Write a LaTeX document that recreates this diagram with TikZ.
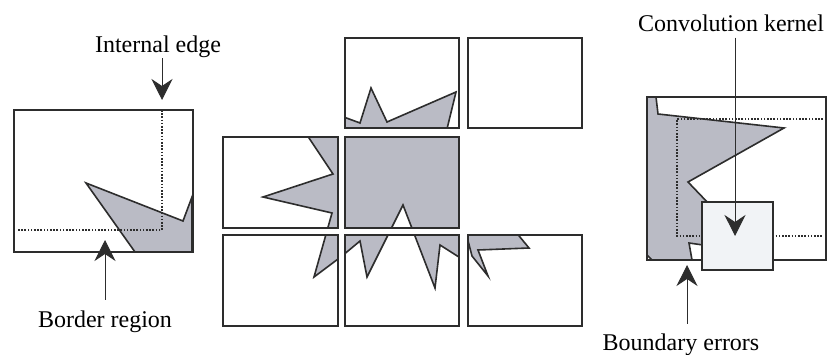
\documentclass[tikz,border=0pt]{standalone}
\usepackage{fontspec}
\setmainfont{Liberation Serif}
\usetikzlibrary{arrows.meta, positioning}
\definecolor{blobgray}{RGB}{186,187,197}
\definecolor{kernelfill}{RGB}{241,243,246}
\definecolor{inkline}{RGB}{45,45,45}

\begin{document}
\begin{tikzpicture}[
    x=1pt, y=-1pt,
    every node/.style={font=\fontsize{24}{28}\selectfont, inner sep=0pt},
    tile/.style={draw=inkline, line width=1.6pt},
    blob/.style={fill=blobgray, draw=inkline, line width=1.6pt, line join=miter},
    edgeline/.style={draw=inkline, line width=1.6pt, dash pattern=on 1.6pt off 1.6pt},
    pointer/.style={-{Stealth[length=21pt, width=21pt, inset=7pt]}, line width=1pt, inkline}
]
\useasboundingbox (0,0) rectangle (834,355);

% left: one image with its border region
\filldraw[blob] (86,183) -- (183,221) -- (192,197) -- (192,252) -- (135,252) -- cycle;
\draw[edgeline] (162,110) -- (162,230) -- (17,230);
\draw[tile] (14,110) rectangle (193,252);

\node (ielabel) at (158,47) {Internal edge};
\node (brlabel) at (105,322) {Border region};
\coordinate (ietip) at (162,100);
\coordinate (brtip) at (105,240);

\draw[pointer] (ielabel.south -| ietip) -- (ietip);
\draw[pointer, shorten <=11pt] (brlabel.north -| brtip) -- (brtip);

% middle: neighbouring tiles
\begin{scope}
\clip (345,38) rectangle (459,128)
      (223,137) rectangle (338,228)
      (345,137) rectangle (459,228)
      (223,235) rectangle (338,326)
      (345,235) rectangle (459,326)
      (468,235) rectangle (582,326);
\filldraw[blob] (341,116) -- (360,123) -- (371,88) -- (387,122) -- (456,92)
    -- (446,133) -- (464,133) -- (515,231) -- (529,248) -- (478,250)
    -- (488,276) -- (472,256) -- (466,233) -- (462,259) -- (440,245) -- (435,288)
    -- (403,205) -- (367,277) -- (360,241) -- (342,256) -- (314,277)
    -- (332,213) -- (263,197) -- (333,174) -- (305,132) -- (341,132) -- cycle;
\end{scope}

\draw[tile] (345,38) rectangle (459,128);
\draw[tile] (468,38) rectangle (582,128);
\draw[tile] (223,137) rectangle (338,228);
\draw[tile] (345,137) rectangle (459,228);
\draw[tile] (223,235) rectangle (338,326);
\draw[tile] (345,235) rectangle (459,326);
\draw[tile] (468,235) rectangle (582,326);

% right: kernel running over the image boundary
\filldraw[blob] (647,97) -- (656,97) -- (658,114) -- (784,128) -- (688,182)
    -- (710,205) -- (710,246) -- (689,243) -- (692,260) -- (652,260)
    -- (647,255) -- cycle;
\draw[edgeline] (823,119) -- (677,119) -- (677,236) -- (823,236);
\draw[tile] (647,97) rectangle (826,260);
\node[tile, fill=kernelfill, minimum width=71pt, minimum height=68pt] (kernel) at (737.5,236) {};

\node (cklabel) at (731,23) {Convolution kernel};
\node (belabel) at (681,345) {Boundary errors};
\coordinate (cktip) at (735,236);
\coordinate (betip) at (687,265);

\draw[pointer, shorten <=6pt] (cklabel.south -| cktip) -- (cktip);
\draw[pointer, shorten <=10pt] (belabel.north -| betip) -- (betip);

\end{tikzpicture}
\end{document}
